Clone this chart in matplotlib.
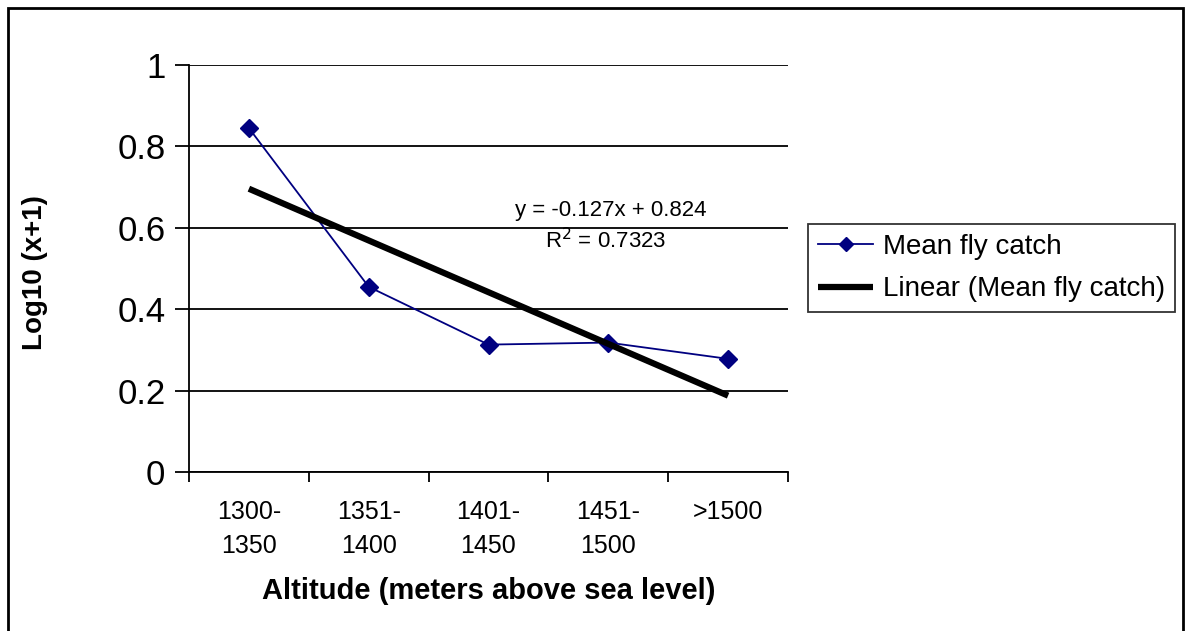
import matplotlib
matplotlib.use("Agg")
import matplotlib.pyplot as plt
import matplotlib.patches as mpatches
import numpy as np

plt.rcParams['font.family'] = ['Liberation Sans', 'DejaVu Sans']

categories = ["1300-\n1350", "1351-\n1400", "1401-\n1450", "1451-\n1500", ">1500"]
mean_catch = [0.845, 0.455, 0.313, 0.318, 0.278]
y_ticks = [0, 0.2, 0.4, 0.6, 0.8, 1]
y_tick_labels = ["0", "0.2", "0.4", "0.6", "0.8", "1"]
equation_text = "y = -0.127x + 0.824"
r2_text = "R$^{2}$ = 0.7323"

W, H = 1186, 631
fig = plt.figure(figsize=(W / 100, H / 100), dpi=100)

# axes placement in pixels
left, right, top, bottom = 189, 788, 65, 472
ax = fig.add_axes([left / W, 1 - bottom / H, (right - left) / W, (bottom - top) / H])

x = np.arange(1, len(categories) + 1)
ax.plot(x, mean_catch, color="#000080", lw=1.3, marker="D", markersize=9,
        markerfacecolor="#000080", markeredgecolor="#000080", label="Mean fly catch", zorder=3)

slope, intercept = np.polyfit(x, mean_catch, 1)
ax.plot(x, slope * x + intercept, color="black", lw=4.5, solid_capstyle="butt",
        label="Linear (Mean fly catch)", zorder=4)

ax.set_xlim(0.5, len(categories) + 0.5)
ax.set_ylim(0, 1)
ax.set_yticks(y_ticks)
ax.set_yticklabels(y_tick_labels, fontsize=25)
ax.set_xticks(np.arange(0.5, len(categories) + 1, 1.0))
ax.set_xticklabels([])
ax.set_xticks(x, minor=True)
ax.set_xticklabels(categories, minor=True, fontsize=18, linespacing=1.55)
ax.tick_params(axis="x", which="minor", length=0, pad=20)
ax.tick_params(axis="x", which="major", direction="out", length=7, width=1.3, color="black")
ax.tick_params(axis="y", which="major", direction="out", length=10, width=1.3, color="black", pad=7)

ax.grid(axis="y", color="black", lw=1.3)
ax.set_axisbelow(True)
for s in ["top", "right"]:
    ax.spines[s].set_visible(False)
for s in ["left", "bottom"]:
    ax.spines[s].set_linewidth(1.3)
    ax.spines[s].set_color("black")

fig.text(489 / W, 1 - 591 / H, "Altitude (meters above sea level)", fontsize=21,
         fontweight="bold", ha="center", va="center")
fig.text(35 / W, 1 - 273 / H, "Log10 (x+1)", fontsize=20, fontweight="bold",
         ha="center", va="center", rotation=90)

ax.text(4.02, 0.643, equation_text, fontsize=16, ha="center", va="center")
ax.text(3.98, 0.568, r2_text, fontsize=16, ha="center", va="center")

leg = fig.legend(loc="upper left", bbox_to_anchor=(808 / W, 1 - 224 / H), fontsize=20,
                 frameon=True, fancybox=False, edgecolor="black", handlelength=2.0,
                 borderpad=0.35, labelspacing=0.6, handletextpad=0.35, borderaxespad=0)
leg.get_frame().set_linewidth(1.3)
for h in leg.legend_handles:
    try:
        h.set_markersize(7)
    except Exception:
        pass

# outer border
rect = mpatches.Rectangle((8 / W, -0.01), (1183 - 8) / W, 1 - 8 / H + 0.01, transform=fig.transFigure,
                          fill=False, edgecolor="black", lw=2)
fig.patches.append(rect)

fig.savefig("out.png", dpi=100)
